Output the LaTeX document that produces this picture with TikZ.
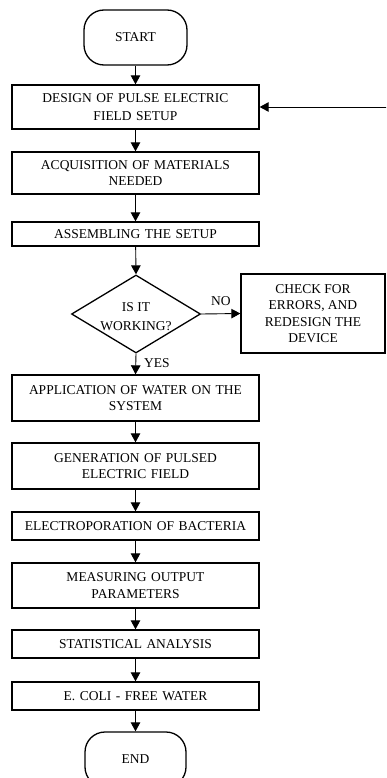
\documentclass[tikz,border=0pt]{standalone}
\usepackage{fontspec}
\setmainfont{Liberation Serif}
\usetikzlibrary{shapes.geometric,arrows.meta}
\begin{document}
\begin{tikzpicture}[x=1pt,y=-1pt,
  font=\fontsize{13.5}{16.5}\selectfont,
  box/.style={draw, line width=1.3pt, minimum width=247pt, inner sep=0pt, align=center, text width=240pt},
  term/.style={draw, line width=1.3pt, rounded corners=20pt, inner sep=0pt, minimum width=103pt, minimum height=55pt},
  arr/.style={-{Triangle[length=9pt,width=9.5pt]}, line width=0.9pt},
  lbl/.style={inner sep=0pt}
]
\useasboundingbox (0,0) rectangle (386,778);
\begin{scope}
\clip (0,0) rectangle (386,778);
\node[term] (start) at (135.5,37.5) {START};
\node[box, minimum height=44pt, font=\fontsize{13.5}{18}\selectfont] (design) at (135.5,107) {DESIGN OF PULSE ELECTRIC\\FIELD SETUP};
\node[box, minimum height=42pt] (acq) at (135.5,173) {ACQUISITION OF MATERIALS\\NEEDED};
\node[box, minimum height=24pt] (asm) at (135.5,234) {ASSEMBLING THE SETUP};
\node[diamond, draw, line width=1.3pt, minimum width=129pt, minimum height=78pt, inner sep=0pt] (dec) at (136,314) {};
\node[lbl, align=center, font=\fontsize{13.5}{19}\selectfont] (dectxt) at (136,317) {IS IT\\WORKING?};
\node[draw, line width=1.3pt, minimum width=144pt, minimum height=79pt, inner sep=0pt, align=center] (check) at (313,313.5) {CHECK FOR\\ERRORS, AND\\REDESIGN THE\\DEVICE};
\node[box, minimum height=46pt] (app) at (135.5,398) {APPLICATION OF WATER ON THE\\SYSTEM};
\node[box, minimum height=46pt] (gen) at (135.5,466) {GENERATION OF PULSED\\ELECTRIC FIELD};
\node[box, minimum height=28pt] (elec) at (135.5,526) {ELECTROPORATION OF BACTERIA};
\node[box, minimum height=45pt] (meas) at (135.5,585.5) {MEASURING OUTPUT\\PARAMETERS};
\node[box, minimum height=28pt] (stat) at (135.5,644) {STATISTICAL ANALYSIS};
\node[box, minimum height=28pt] (ecoli) at (135.5,696) {E. COLI - FREE WATER};
\node[term, minimum width=101pt] (end) at (135.5,759.5) {END};
\coordinate (fb) at (387,107);

\draw[arr] (start) -- (design);
\draw[arr] (design) -- (acq);
\draw[arr] (acq) -- (asm);
\draw[arr] (asm) -- (dec.north);
\draw[arr] (dec.east) -- (check.west) node[lbl, pos=0.5, above=8pt] (no) {NO};
\draw[arr] (dec.south) -- (app.north) node[lbl, pos=0.45, right=8pt] (yes) {YES};
\draw[arr] (app) -- (gen);
\draw[arr] (gen) -- (elec);
\draw[arr] (elec) -- (meas);
\draw[arr] (meas) -- (stat);
\draw[arr] (stat) -- (ecoli);
\draw[arr] (ecoli) -- (end);
\draw[arr] (fb) -- (design.east);
\end{scope}
\end{tikzpicture}
\end{document}
